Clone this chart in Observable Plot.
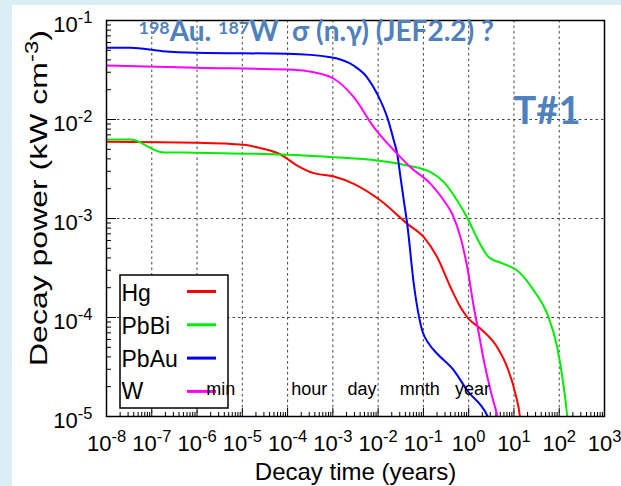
<!DOCTYPE html>
<html><head><meta charset="utf-8">
<script src="https://cdn.jsdelivr.net/npm/d3@7"></script>
<script src="https://cdn.jsdelivr.net/npm/@observablehq/plot@0.6"></script>
<style>
html,body{margin:0;padding:0;background:#dbeef4;width:621px;height:486px;overflow:hidden;}
#panel{position:absolute;left:12px;top:5px;width:609px;height:481px;background:#fff;}
#chart{position:absolute;left:0;top:0;}
</style></head><body>
<div id="panel"></div><div id="chart"></div>
<script>
// ---- data ----
const series = ["Hg", "PbBi", "PbAu", "W"];
const colors = ["#ff0000", "#00ee00", "#0000ff", "#ff00ff"];

const hgTime  = [1e-8, 1e-6, 1.08e-5, 2.52e-5, 7e-5, 1.63e-4, 3.8e-4, 1.05e-3, 2.9e-3, 1.13e-2, 4.4e-2, 0.102, 0.202, 0.397, 0.66, 1.0, 1.83, 4.28, 7.1, 10.8, 13.5, 14.5];
const hgPower = [5.96e-3, 5.82e-3, 5.55e-3, 5.13e-3, 4.43e-3, 3.43e-3, 2.87e-3, 2.66e-3, 2.24e-3, 1.52e-3, 8.83e-4, 6.47e-4, 4.06e-4, 2.02e-4, 1.27e-4, 9.7e-5, 7.7e-5, 5.0e-5, 3.15e-5, 1.69e-5, 1.0e-5, 7e-6];

const pbbiTime  = [1e-8, 3.4e-8, 1.7e-7, 1e-6, 1e-4, 1.05e-3, 9.5e-3, 4.4e-2, 0.144, 0.283, 0.558, 1.0, 1.55, 2.79, 5.97, 11.8, 27.5, 54.3, 90.3, 126, 150, 160];
const pbbiPower = [6.28e-3, 6.28e-3, 4.68e-3, 4.61e-3, 4.4e-3, 4.16e-3, 3.85e-3, 3.43e-3, 2.94e-3, 2.33e-3, 1.52e-3, 9.55e-4, 6.24e-4, 4.06e-4, 3.48e-4, 2.98e-4, 1.87e-4, 1.09e-4, 5.01e-5, 1.98e-5, 1.0e-5, 7e-6];

const pbauTime  = [1e-8, 3.4e-8, 1.7e-7, 1e-6, 1e-4, 8.9e-4, 2.86e-3, 5.7e-3, 9.5e-3, 1.59e-2, 2.22e-2, 2.64e-2, 3.12e-2, 3.69e-2, 4.39e-2, 6.13e-2, 9.4e-2, 0.132, 0.202, 0.47, 0.93, 2.57, 3.2];
const pbauPower = [5.3e-2, 5.3e-2, 4.9e-2, 4.72e-2, 4.61e-2, 4.26e-2, 3.51e-2, 2.67e-2, 1.82e-2, 1.05e-2, 6.14e-3, 4.5e-3, 2.61e-3, 1.52e-3, 8.8e-4, 2.19e-4, 7.4e-5, 5.42e-5, 4.3e-5, 2.92e-5, 1.83e-5, 1.02e-5, 8e-6];

const wTime  = [1e-8, 1e-6, 1e-4, 2.71e-4, 1.05e-3, 2.9e-3, 8.0e-3, 2.64e-2, 5.19e-2, 0.144, 0.283, 0.433, 0.66, 0.93, 1.30, 1.68, 2.16, 3.04, 4.28, 4.8];
const wPower = [3.51e-2, 3.33e-2, 3.2e-2, 3.08e-2, 2.58e-2, 1.68e-2, 8.36e-3, 4.5e-3, 3.3e-3, 2.24e-3, 1.52e-3, 1.11e-3, 6.47e-4, 3.22e-4, 1.27e-4, 6.84e-5, 3.68e-5, 1.83e-5, 1.02e-5, 8e-6];

const xTickExps = [-8, -7, -6, -5, -4, -3, -2, -1, 0, 1, 2, 3];
const yTickExps = [-5, -4, -3, -2, -1];
const timeLabels = ["min", "hour", "day", "mnth", "year"];
const timeLabelAt = [1.6e-6, 1.2e-4, 2.1e-3, 3.0e-2, 0.5];

const titleText = "^{198}Au. ^{187}W \u00a0\u03c3 (n.\u03b3) (JEF2.2) ?";
const tagText = "T#1";
const xLabel = "Decay time (years)";
const yLabel = "Decay power (kW cm^{-3})";

// ---- build table ----
const times = [hgTime, pbbiTime, pbauTime, wTime];
const powers = [hgPower, pbbiPower, pbauPower, wPower];
const rows = series.flatMap((s, i) => times[i].map((t, j) => ({series: s, time: t, power: powers[i][j]})));

const xMajor = xTickExps.map(e => Math.pow(10, e));
const yMajor = yTickExps.map(e => Math.pow(10, e));
const xMinor = xTickExps.slice(0, -1).flatMap(e => [2,3,4,5,6,7,8,9].map(d => d * Math.pow(10, e)));
const yMinor = yTickExps.slice(0, -1).flatMap(e => [2,3,4,5,6,7,8,9].map(d => d * Math.pow(10, e)));
const xGrid = xMajor.slice(1, -1);
const yGrid = yMajor.slice(1, -1);
const timeRows = timeLabels.map((l, i) => ({label: l, time: timeLabelAt[i]}));

const FONT = "'Liberation Sans', Arial, Helvetica, sans-serif";
const TFONT = "Lato, 'Open Sans', sans-serif";
const W = 621, H = 486, ML = 106, MR = 17, MT = 20, MB = 70;
const fw = W - ML - MR, fh = H - MT - MB;
const mid = {lineAnchor: "middle"};

const svg = Plot.plot({
  width: W, height: H,
  marginLeft: ML, marginRight: MR, marginTop: MT, marginBottom: MB,
  style: {background: "transparent", fontFamily: FONT, color: "black"},
  x: {type: "log", domain: [1e-8, 1e3], axis: null},
  y: {type: "log", domain: [1e-5, 1e-1], axis: null},
  color: {domain: series, range: colors},
  marks: [
    Plot.ruleX(xGrid, {stroke: "#444", strokeWidth: 1, strokeDasharray: "2.5,3"}),
    Plot.ruleY(yGrid, {stroke: "#444", strokeWidth: 1, strokeDasharray: "2.5,3"}),
    Plot.tickX(xMinor, {x: d => d, insetTop: fh - 4, stroke: "black", strokeWidth: 1}),
    Plot.tickX(xMajor, {x: d => d, insetTop: fh - 8, stroke: "black", strokeWidth: 1}),
    Plot.tickY(yMinor, {y: d => d, insetRight: fw - 5, stroke: "black", strokeWidth: 1}),
    Plot.tickY(yMajor, {y: d => d, insetRight: fw - 10, stroke: "black", strokeWidth: 1}),
    Plot.line(rows, {x: "time", y: "power", stroke: "series", z: "series", strokeWidth: 2, curve: "monotone-x", clip: true}),
    Plot.frame({stroke: "black", strokeWidth: 1.5}),
    Plot.text(xTickExps, {...mid, x: e => Math.pow(10, e), text: e => "10^{" + e + "}", frameAnchor: "bottom", dy: 27, fontSize: 22, textAnchor: "middle"}),
    Plot.text(yTickExps, {...mid, y: e => Math.pow(10, e), text: e => "10^{" + e + "}", frameAnchor: "left", dx: -14, dy: 4, fontSize: 22, textAnchor: "end"}),
    Plot.text([xLabel], {...mid, text: d => d, frameAnchor: "bottom", dy: 55.5, fontSize: 24, textAnchor: "middle"}),
    Plot.text([yLabel], {...mid, text: d => d, frameAnchor: "left", dx: -67, dy: -20.5, rotate: -90, fontSize: 24, textAnchor: "middle"}),
    Plot.text([titleText], {...mid, text: d => d, frameAnchor: "top-left", dx: 32, dy: 12, textAnchor: "start", fontSize: 28, fontWeight: "bold", fontFamily: TFONT, fill: "#4f81bd"}),
    Plot.text([tagText], {...mid, text: d => d, frameAnchor: "top-right", dx: -57.5, dy: 91, textAnchor: "middle", fontSize: 38, fontWeight: "bold", fontFamily: TFONT, fill: "#4f81bd"}),
    Plot.text(timeRows, {...mid, x: "time", text: "label", frameAnchor: "bottom", dy: -27, textAnchor: "start", fontSize: 18})
  ]
});
document.getElementById("chart").appendChild(svg);

// superscripts as tspans
const NS = "http://www.w3.org/2000/svg";
svg.querySelectorAll("text").forEach(t => {
  const s = t.textContent;
  if (!s.includes("^{")) return;
  const cs = getComputedStyle(t);
  const fs = parseFloat(cs.fontSize);
  const bold = cs.fontWeight === "bold" || parseInt(cs.fontWeight) >= 600;
  const ratio = bold ? 0.64 : 0.75;
  const shift = bold ? 0.27 : 0.4;
  while (t.firstChild) t.removeChild(t.firstChild);
  const parts = s.split(/\^\{([^}]*)\}/);
  let raised = false;
  parts.forEach((p, i) => {
    if (!p) return;
    const sp = document.createElementNS(NS, "tspan");
    sp.textContent = p;
    if (i % 2 === 1) {
      sp.setAttribute("font-size", (fs * ratio).toFixed(1));
      if (!raised) sp.setAttribute("dy", (-fs * shift).toFixed(1));
      raised = true;
    } else if (raised) {
      sp.setAttribute("dy", (fs * shift).toFixed(1));
      raised = false;
    }
    t.appendChild(sp);
  });
  // the reference's vertical axis title is drawn longer than its glyph height suggests
  if (s.startsWith("Decay power")) {
    t.setAttribute("textLength", 336);
    t.setAttribute("lengthAdjust", "spacingAndGlyphs");
  }
});

// legend box, placed under the time labels
let timeGroup = null;
svg.querySelectorAll("text").forEach(t => { if (t.textContent === "min") timeGroup = t.parentNode; });
const lgNode = document.createElementNS(NS, "g");
svg.insertBefore(lgNode, timeGroup);
const lg = d3.select(lgNode).attr("text-anchor", "start");
lg.append("rect").attr("x", 120).attr("y", 275).attr("width", 108).attr("height", 133)
  .attr("fill", "white").attr("stroke", "black").attr("stroke-width", 1.5);
series.forEach((s, i) => {
  lg.append("text").attr("x", 121.5).attr("y", 301 + i * 32.8)
    .attr("font-size", 23).attr("font-family", FONT).attr("fill", "black").text(s);
  lg.append("line").attr("x1", 187).attr("x2", 216)
    .attr("y1", 291.5 + i * 33.3).attr("y2", 291.5 + i * 33.3)
    .attr("stroke", colors[i]).attr("stroke-width", 3);
});
</script>
</body></html>
